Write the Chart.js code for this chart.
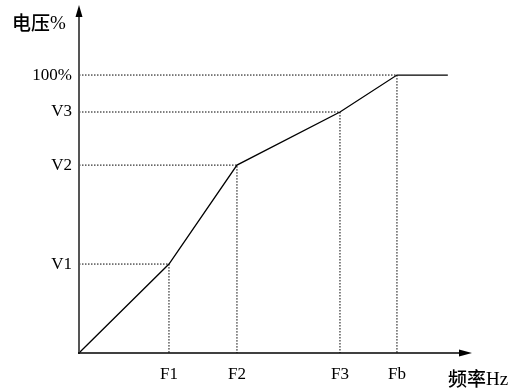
<!DOCTYPE html>
<html>
<head>
<meta charset="utf-8">
<script src="https://cdn.jsdelivr.net/npm/chart.js@4/dist/chart.umd.min.js"></script>
<style>
html,body{margin:0;padding:0;background:#fff;}
#wrap{width:518px;height:391px;}
</style>
</head>
<body>
<div id="wrap"><canvas id="c" width="518" height="391"></canvas></div>
<script>
// Frequency tick positions (arbitrary units, Fb = 50) and their labels
const xLabels = ['F1', 'F2', 'F3', 'Fb'];
const xValues = [14.15, 24.84, 41.04, 50];
// Voltage tick positions (%) and their labels
const yLabels = ['V1', 'V2', 'V3', '100%'];
const yValues = [32.0, 67.6, 86.7, 100];
// V/F curve
const curveX = [0, 14.15, 24.84, 41.04, 50, 58.0];
const curveY = [0, 32.0, 67.6, 86.7, 100, 100];
const xMax = 61.8;
const yMax = 125.2;
const yTitle = '电压%';
const xTitle = '频率Hz';

const curve = curveX.map((x, i) => ({x: x, y: curveY[i]}));
const guides = xValues.map((fx, i) => ({
  type: 'line',
  data: [{x: 0, y: yValues[i]}, {x: fx, y: yValues[i]}, {x: fx, y: 0}],
  borderColor: '#000',
  borderWidth: 1,
  borderDash: [1.5, 1.5],
  pointRadius: 0,
  fill: false,
  tension: 0
}));

const serif = '"Liberation Serif", "Times New Roman", serif';
const cjk = '"Noto Sans CJK SC", sans-serif';

const decor = {
  id: 'decor',
  afterDraw(chart) {
    const ctx = chart.ctx;
    const a = chart.chartArea;
    const ox = a.left, oy = a.bottom;
    ctx.save();
    // y axis
    ctx.strokeStyle = '#555';
    ctx.lineWidth = 2;
    ctx.beginPath();
    ctx.moveTo(ox, oy + 1);
    ctx.lineTo(ox, a.top + 8);
    ctx.stroke();
    ctx.fillStyle = '#000';
    ctx.beginPath();
    ctx.moveTo(ox, a.top);
    ctx.lineTo(ox - 3.5, a.top + 12);
    ctx.lineTo(ox + 3.5, a.top + 12);
    ctx.closePath();
    ctx.fill();
    // x axis
    ctx.strokeStyle = '#000';
    ctx.lineWidth = 1.6;
    ctx.beginPath();
    ctx.moveTo(ox - 1, oy);
    ctx.lineTo(a.right - 8, oy);
    ctx.stroke();
    ctx.beginPath();
    ctx.moveTo(a.right, oy);
    ctx.lineTo(a.right - 13, oy - 3.5);
    ctx.lineTo(a.right - 13, oy + 3.5);
    ctx.closePath();
    ctx.fill();
    // titles
    ctx.textBaseline = 'middle';
    ctx.textAlign = 'left';
    ctx.fillStyle = '#000';
    ctx.font = '500 19px ' + cjk;
    const yt1 = yTitle.slice(0, 2), yt2 = yTitle.slice(2);
    ctx.fillText(yt1, 12, 23);
    const w1 = ctx.measureText(yt1).width;
    ctx.font = '19px ' + serif;
    ctx.fillText(yt2, 12 + w1, 24);
    const xt1 = xTitle.slice(0, 2), xt2 = xTitle.slice(2);
    ctx.font = '500 19px ' + cjk;
    ctx.fillText(xt1, 448, 379);
    const w2 = ctx.measureText(xt1).width;
    ctx.font = '19px ' + serif;
    ctx.fillText(xt2, 448 + w2, 380);
    ctx.restore();
  }
};

new Chart(document.getElementById('c'), {
  type: 'scatter',
  data: {
    datasets: [
      ...guides,
      {
        type: 'line',
        data: curve,
        borderColor: '#000',
        borderWidth: 1.3,
        pointRadius: 0,
        fill: false,
        tension: 0
      }
    ]
  },
  options: {
    responsive: false,
    animation: false,
    events: [],
    layout: {padding: {left: 0, top: 5, right: 46, bottom: 0}},
    plugins: {legend: {display: false}, tooltip: {enabled: false}, title: {display: false}},
    scales: {
      x: {
        type: 'linear', min: 0, max: xMax,
        grid: {display: false, drawTicks: false},
        border: {display: false},
        afterBuildTicks: s => { s.ticks = xValues.map(v => ({value: v})); },
        afterFit: s => { s.height = 38; s.paddingLeft = 0; s.paddingRight = 0; },
        ticks: {
          autoSkip: false, maxRotation: 0, padding: 11,
          color: '#000', font: {family: serif, size: 17},
          callback: (v, i) => xLabels[i]
        }
      },
      y: {
        type: 'linear', min: 0, max: yMax,
        grid: {display: false, drawTicks: false},
        border: {display: false},
        afterBuildTicks: s => { s.ticks = yValues.map(v => ({value: v})); },
        afterFit: s => { s.width = 79; s.paddingTop = 0; s.paddingBottom = 0; },
        ticks: {
          autoSkip: false, padding: 7,
          color: '#000', font: {family: serif, size: 17},
          callback: (v, i) => yLabels[i]
        }
      }
    }
  },
  plugins: [decor]
});
</script>
</body>
</html>
